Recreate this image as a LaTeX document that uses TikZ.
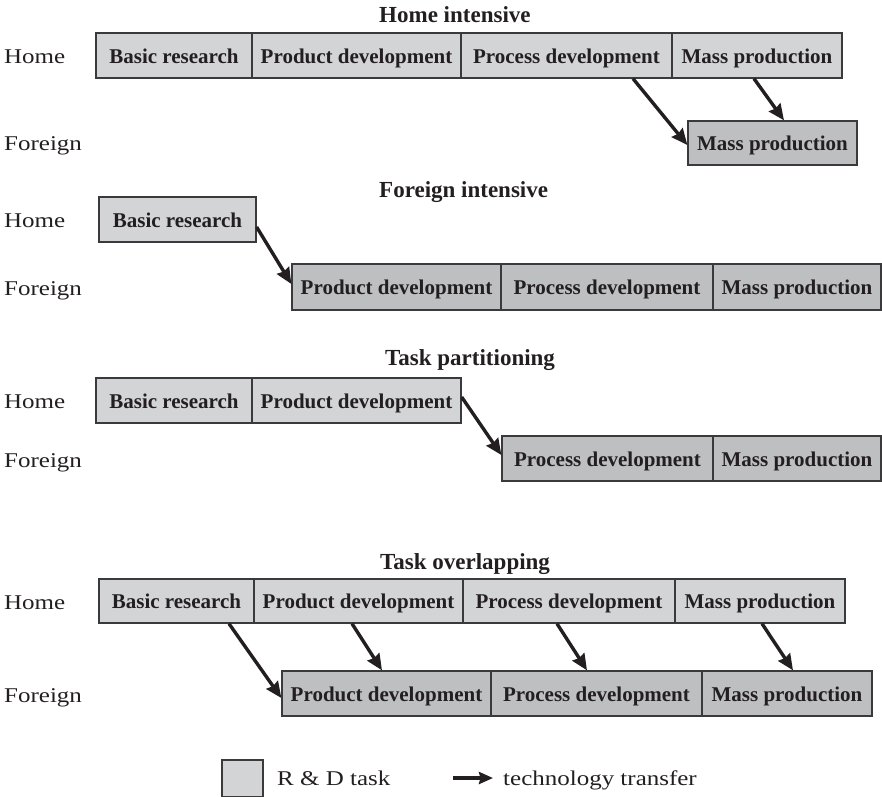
\documentclass[tikz,border=0pt]{standalone}
\usepackage{fontspec}
\setmainfont{Liberation Serif}
\newfontfamily\lblfont[FakeStretch=1.19]{Liberation Serif}
\usetikzlibrary{arrows.meta}
\definecolor{homegray}{HTML}{D3D4D6}
\definecolor{forgray}{HTML}{BEBFC1}
\definecolor{ink}{HTML}{231F20}
\definecolor{edgegray}{HTML}{3A3A3C}
\begin{document}
\begin{tikzpicture}[x=1pt,y=-1pt,
  task/.style={draw=edgegray, line width=1.3pt, inner sep=0pt, minimum height=45pt,
    text height=17pt, text depth=1.5pt,
    text=ink, font=\fontsize{21}{25}\selectfont\bfseries},
  hometask/.style={task, fill=homegray},
  fortask/.style={task, fill=forgray},
  rowlabel/.style={anchor=base west, inner sep=0pt, text=ink, font=\lblfont\fontsize{21}{25}\selectfont},
  titletext/.style={anchor=base west, inner sep=0pt, text=ink, font=\fontsize{23}{27}\selectfont\bfseries},
  transfer/.style={draw=ink, line width=3.4pt, -{Stealth[length=16pt,width=14pt,inset=1.5pt]}},
  keytransfer/.style={draw=ink, line width=3.2pt, -{Stealth[length=14pt,width=12pt,inset=1.5pt]}}]
\useasboundingbox (0,0) rectangle (882,796);

% ---------- Home intensive ----------
\node[titletext] (t1) at (379,22) {Home intensive};
\node[rowlabel] (l1h) at (4,63) {Home};
\node[rowlabel] (l1f) at (4,150) {Foreign};
\node[hometask, minimum width=156pt] (h1a) at (174,55.5) {Basic research};
\node[hometask, minimum width=209pt] (h1b) at (356.5,55.5) {Product development};
\node[hometask, minimum width=211pt] (h1c) at (566.5,55.5) {Process development};
\node[hometask, minimum width=170pt] (h1d) at (757,55.5) {Mass production};
\node[fortask, minimum width=169pt, minimum height=44pt] (f1a) at (772.5,143) {Mass production};
\draw[transfer] ([xshift=66.5pt]h1c.south) -- ([yshift=-2pt]f1a.west);
\draw[transfer] ([xshift=-3pt]h1d.south) -- ([xshift=11.5pt]f1a.north);

% ---------- Foreign intensive ----------
\node[titletext] (t2) at (379,197) {Foreign intensive};
\node[rowlabel] (l2h) at (4,227) {Home};
\node[rowlabel] (l2f) at (4,295) {Foreign};
\node[hometask, minimum width=157pt] (h2a) at (177.5,219.5) {Basic research};
\node[fortask, minimum width=209pt, minimum height=46pt] (f2a) at (396.5,287) {Product development};
\node[fortask, minimum width=212pt, minimum height=46pt] (f2b) at (607,287) {Process development};
\node[fortask, minimum width=168pt, minimum height=46pt] (f2c) at (797,287) {Mass production};
\draw[transfer] ([yshift=-7.5pt]h2a.east) -- ([yshift=3pt]f2a.west);

% ---------- Task partitioning ----------
\node[titletext] (t3) at (385,365) {Task partitioning};
\node[rowlabel] (l3h) at (4,408) {Home};
\node[rowlabel] (l3f) at (4,467) {Foreign};
\node[hometask, minimum width=156pt] (h3a) at (174,400.5) {Basic research};
\node[hometask, minimum width=209pt] (h3b) at (356.5,400.5) {Product development};
\node[fortask, minimum width=211pt] (f3a) at (607.5,458.5) {Process development};
\node[fortask, minimum width=168pt] (f3b) at (797,458.5) {Mass production};
\draw[transfer] ([yshift=3.5pt]h3b.east) -- ([yshift=3.5pt]f3a.west);

% ---------- Task overlapping ----------
\node[titletext] (t4) at (380,569) {Task overlapping};
\node[rowlabel] (l4h) at (4,609) {Home};
\node[rowlabel] (l4f) at (4,702) {Foreign};
\node[hometask, minimum width=155pt, minimum height=44pt] (h4a) at (176.5,601) {Basic research};
\node[hometask, minimum width=209pt, minimum height=44pt] (h4b) at (358.5,601) {Product development};
\node[hometask, minimum width=212pt, minimum height=44pt] (h4c) at (569,601) {Process development};
\node[hometask, minimum width=170pt, minimum height=44pt] (h4d) at (760,601) {Mass production};
\node[fortask, minimum width=209pt] (f4a) at (386.5,693.5) {Product development};
\node[fortask, minimum width=211pt] (f4b) at (596.5,693.5) {Process development};
\node[fortask, minimum width=170pt] (f4c) at (787,693.5) {Mass production};
\draw[transfer] ([xshift=52.5pt]h4a.south) -- ([yshift=-4.5pt]f4a.west);
\draw[transfer] ([xshift=-6.5pt]h4b.south) -- ([xshift=-4.5pt]f4a.north);
\draw[transfer] ([xshift=-12pt]h4c.south) -- ([xshift=-9.5pt]f4b.north);
\draw[transfer] ([xshift=2pt]h4d.south) -- ([xshift=6pt]f4c.north);

% ---------- Legend ----------
\node[draw=edgegray, fill=homegray, line width=1.3pt, inner sep=0pt,
      minimum width=41pt, minimum height=37pt] (key) at (242.5,778.5) {};
\node[rowlabel] (keytext) at (277,785) {R \& D task};
\node[rowlabel] (tt) at (503,785) {technology transfer};
\coordinate (ks) at (453,778);
\draw[keytransfer] (ks) -- ([xshift=-10pt]ks -| tt.west);
\end{tikzpicture}
\end{document}
